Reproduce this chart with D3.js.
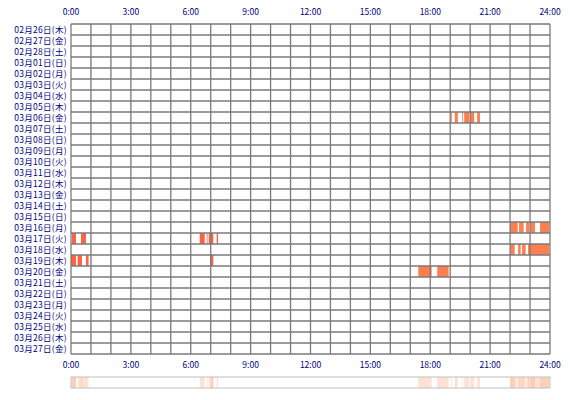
<!doctype html>
<html>
  <head>
    <meta charset="utf-8">
    <script src="https://d3js.org/d3.v7.min.js"></script>
    <style>
      body { margin: 0; background: #fff; }
      text { font-family: "Noto Sans CJK JP", sans-serif; font-size: 8.5px; fill: #000080; }
    </style>
  </head>
  <body>
    <script>
      var days = ["02月26日(木)","02月27日(金)","02月28日(土)","03月01日(日)","03月02日(月)","03月03日(火)",
        "03月04日(水)","03月05日(木)","03月06日(金)","03月07日(土)","03月08日(日)","03月09日(月)",
        "03月10日(火)","03月11日(水)","03月12日(木)","03月13日(金)","03月14日(土)","03月15日(日)",
        "03月16日(月)","03月17日(火)","03月18日(水)","03月19日(木)","03月20日(金)","03月21日(土)",
        "03月22日(日)","03月23日(月)","03月24日(火)","03月25日(水)","03月26日(木)","03月27日(金)"];
      var hourTicks = [0, 3, 6, 9, 12, 15, 18, 21, 24];
      // [day, start hour, end hour]
      var sessions = [
        ["03月06日(金)", 19.03, 19.08], ["03月06日(金)", 19.23, 19.38], ["03月06日(金)", 19.6, 19.64],
        ["03月06日(金)", 19.7, 19.95], ["03月06日(金)", 20.0, 20.2], ["03月06日(金)", 20.35, 20.49],
        ["03月16日(月)", 22.0, 22.38], ["03月16日(月)", 22.45, 22.68], ["03月16日(月)", 22.8, 22.95],
        ["03月16日(月)", 23.0, 23.25], ["03月16日(月)", 23.5, 23.96],
        ["03月17日(火)", 0.05, 0.25], ["03月17日(火)", 0.5, 0.75], ["03月17日(火)", 6.45, 6.7],
        ["03月17日(火)", 6.8, 6.84], ["03月17日(火)", 6.9, 6.97], ["03月17日(火)", 7.0, 7.13],
        ["03月17日(火)", 7.3, 7.37],
        ["03月18日(水)", 22.0, 22.23], ["03月18日(水)", 22.4, 22.53], ["03月18日(水)", 22.6, 22.78],
        ["03月18日(水)", 22.9, 23.96],
        ["03月19日(木)", 0.0, 0.25], ["03月19日(木)", 0.33, 0.55], ["03月19日(木)", 0.75, 0.88],
        ["03月19日(木)", 6.98, 7.13],
        ["03月20日(金)", 17.4, 18.07], ["03月20日(金)", 18.35, 18.92]
      ];
      var redDays = ["03月17日(火)", "03月19日(木)"];

      var w = 570, h = 400;
      var svg = d3.select("body").append("svg").attr("width", w).attr("height", h);

      var x = d3.scaleLinear().domain([0, 24]).range([71, 550]);
      var y = d3.scaleBand().domain(days).range([24, 354]);

      // bars
      svg.append("g").selectAll("rect").data(sessions).enter().append("rect")
        .attr("x", d => x(d[1])).attr("width", d => x(d[2]) - x(d[1]))
        .attr("y", d => y(d[0])).attr("height", y.bandwidth())
        .style("fill", d => redDays.indexOf(d[0]) >= 0 ? "#ff6347" : "#ff7f50");

      // grid
      var grid = svg.append("g").style("stroke", "#7a7a7a").style("stroke-width", 1.3);
      grid.selectAll(".v").data(d3.range(25)).enter().append("line")
        .attr("x1", d => x(d)).attr("x2", d => x(d)).attr("y1", 24).attr("y2", 354);
      grid.selectAll(".hl").data(d3.range(days.length + 1)).enter().append("line")
        .attr("x1", 71).attr("x2", 550)
        .attr("y1", d => 24 + d * y.step()).attr("y2", d => 24 + d * y.step());

      // day labels
      svg.append("g").selectAll("text").data(days).enter().append("text")
        .attr("x", 67).attr("y", d => y(d) + y.bandwidth() / 2 + 3.2)
        .attr("text-anchor", "end").style("letter-spacing", "0.3px").text(d => d);

      // hour labels top and bottom
      [15, 368].forEach(function(ty) {
        svg.append("g").selectAll("text").data(hourTicks).enter().append("text")
          .attr("x", d => x(d)).attr("y", ty).attr("text-anchor", "middle")
          .text(d => d + ":00");
      });

      // summary strip
      var strip = svg.append("g");
      strip.selectAll("rect").data(sessions).enter().append("rect")
        .attr("x", d => x(d[1])).attr("width", d => x(d[2]) - x(d[1]))
        .attr("y", 377).attr("height", 11)
        .style("fill", "#ffa070").style("fill-opacity", 0.3);
      strip.append("rect").attr("x", 71).attr("y", 377).attr("width", 479).attr("height", 11)
        .style("fill", "none").style("stroke", "#c0c0c0").style("stroke-width", 1);
    </script>
  </body>
</html>
